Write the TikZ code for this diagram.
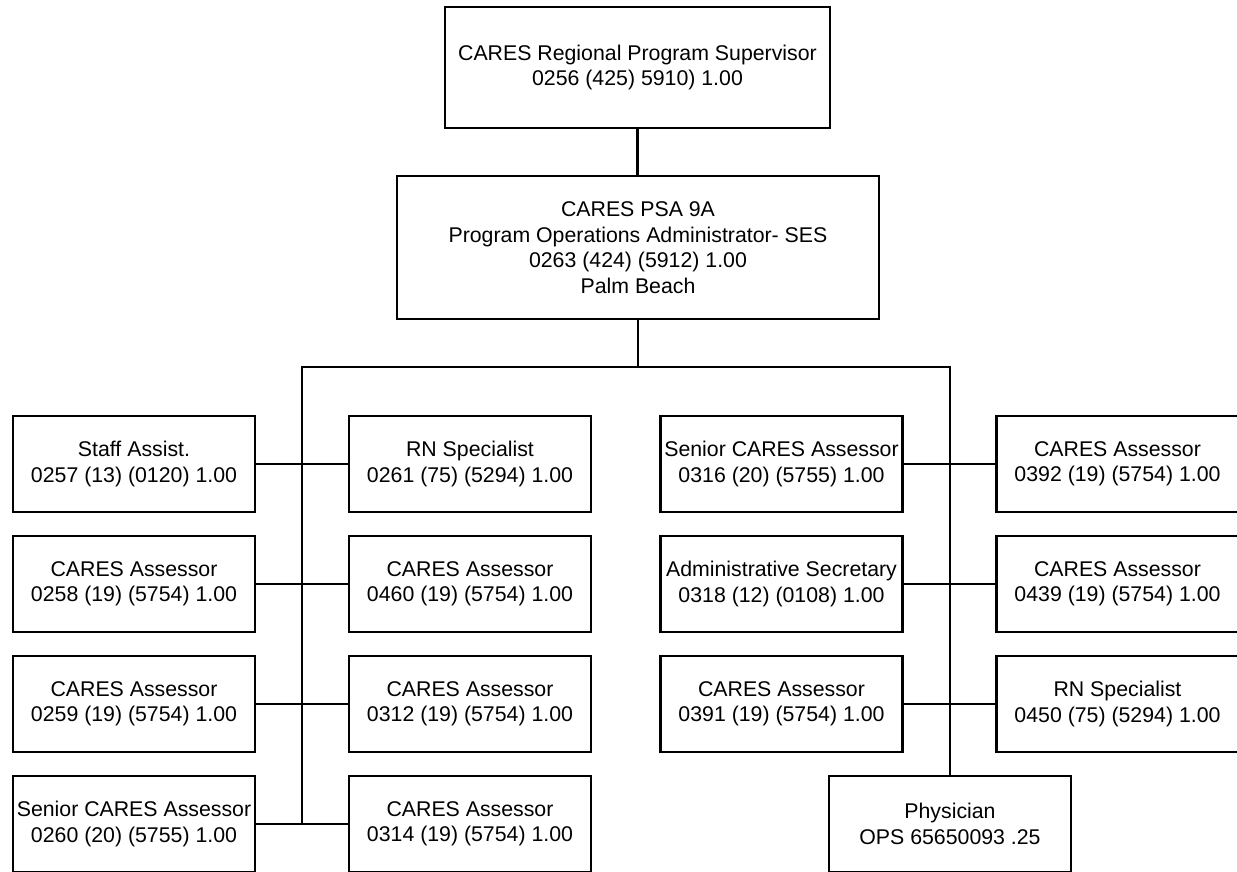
\documentclass[tikz,border=0pt]{standalone}
\usepackage{fontspec}
\setmainfont{Liberation Sans}
\begin{document}
\begin{tikzpicture}[x=1pt,y=-1pt,
  box/.style={draw,line width=2.9pt,inner sep=0pt,minimum width=242pt,minimum height=96pt,align=center,font=\fontsize{21.3}{25.5}\selectfont},
  link/.style={line width=2.3pt}]
\useasboundingbox (0,0) rectangle (1237,872);
\node[box,minimum width=385pt,minimum height=121pt] (sup) at (637.5,67.5) {CARES Regional Program Supervisor\\0256 (425) 5910) 1.00};
\node[box,minimum width=482pt,minimum height=143pt] (poa) at (638,247.5) {CARES PSA 9A\\Program Operations Administrator- SES\\0263 (424) (5912) 1.00\\Palm Beach};
\node[box] (a1) at (134,464) {Staff Assist.\\0257 (13) (0120) 1.00};
\node[box] (a2) at (134,584) {CARES Assessor\\0258 (19) (5754) 1.00};
\node[box] (a3) at (134,704) {CARES Assessor\\0259 (19) (5754) 1.00};
\node[box] (a4) at (134,824) {Senior CARES Assessor\\0260 (20) (5755) 1.00};
\node[box] (b1) at (470,464) {RN Specialist\\0261 (75) (5294) 1.00};
\node[box] (b2) at (470,584) {CARES Assessor\\0460 (19) (5754) 1.00};
\node[box] (b3) at (470,704) {CARES Assessor\\0312 (19) (5754) 1.00};
\node[box] (b4) at (470,824) {CARES Assessor\\0314 (19) (5754) 1.00};
\node[box] (c1) at (781.5,464) {Senior CARES Assessor\\0316 (20) (5755) 1.00};
\node[box] (c2) at (781.5,584) {Administrative Secretary\\0318 (12) (0108) 1.00};
\node[box] (c3) at (781.5,704) {CARES Assessor\\0391 (19) (5754) 1.00};
\node[box] (d1) at (1117.5,464) {CARES Assessor\\0392 (19) (5754) 1.00};
\node[box] (d2) at (1117.5,584) {CARES Assessor\\0439 (19) (5754) 1.00};
\node[box] (d3) at (1117.5,704) {RN Specialist\\0450 (75) (5294) 1.00};
\node[box] (phys) at (950,824) {Physician\\OPS 65650093 .25};
\coordinate (busl) at (302,367);
\coordinate (busr) at (950,367);
\draw[link] (sup.south) -- (sup.south |- poa.north);
\draw[link] (poa.south) -- (poa.south |- busl);
\draw[link] (busl |- a4.east) -- (busl) -- (busr) -- (phys.north);
\foreach \r in {1,2,3,4}\draw[link] (a\r.east) -- (b\r.west);
\foreach \r in {1,2,3}\draw[link] (c\r.east) -- (d\r.west);
\end{tikzpicture}
\end{document}
